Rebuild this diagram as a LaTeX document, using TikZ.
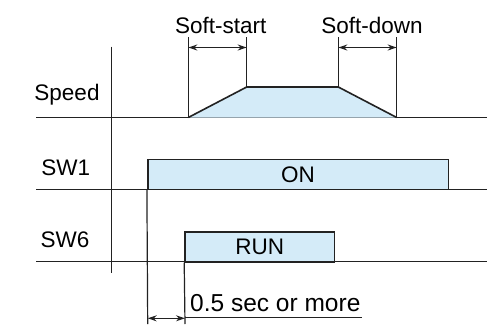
\documentclass[tikz,border=0pt]{standalone}
\usepackage{fontspec}
\setmainfont{Liberation Sans}
\usetikzlibrary{arrows.meta,positioning,calc}
\definecolor{fillBlue}{HTML}{D4EBF8}
\definecolor{lineDark}{HTML}{222222}

\begin{document}
\begin{tikzpicture}[
      x=1pt, y=-1pt,
      sigbox/.style={
        rectangle, fill=fillBlue, draw=lineDark, line width=1.6pt, inner sep=0pt,
        font=\fontsize{22.5pt}{24pt}\selectfont, text=black
      },
      sigline/.style={draw=lineDark, line width=1.2pt},
      rowlabel/.style={font=\fontsize{22.5pt}{24pt}\selectfont, inner sep=0pt, anchor=center},
      dimarr/.style={{Stealth[length=9pt,width=6pt]}-{Stealth[length=9pt,width=6pt]}, draw=lineDark, line width=1.2pt}
    ]
      \useasboundingbox (0,0) rectangle (487,324);

      % time axis and the three signal base lines
      \coordinate (axtop) at (111.7,46.7);
      \coordinate (axbot) at (111.7,273);
      \draw[sigline] (axtop) -- (axbot);
      \draw[sigline] (36,117.5) -- (487,117.5);
      \draw[sigline] (36,189.3) -- (487,189.3);
      \draw[sigline] (36,261.7) -- (487,261.7);

      \node[rowlabel] (lspeed) at (67,95) {Speed};
      \node[rowlabel] (lsw1) at (65.7,168) {SW1};
      \node[rowlabel] (lsw6) at (65,240) {SW6};

      % speed profile
      \coordinate (s0) at (188.3,117.5);
      \coordinate (s1) at (246.7,87);
      \coordinate (s2) at (338.3,87);
      \coordinate (s3) at (396.7,117.5);
      \fill[fillBlue] (s0) -- (s1) -- (s2) -- (s3) -- cycle;
      \draw[sigline, line width=1.6pt] (s0) -- (s1) -- (s2) -- (s3);

      \coordinate (t0) at (188.3,37);
      \coordinate (t1) at (246.7,37);
      \coordinate (t2) at (338.3,37);
      \coordinate (t3) at (396.7,37);
      \draw[sigline] (t0) -- (s0);
      \draw[sigline] (t1) -- (s1);
      \draw[sigline] (t2) -- (s2);
      \draw[sigline] (t3) -- (s3);
      \draw[dimarr] ($(t0)+(0,10.5)$) -- ($(t1)+(0,10.5)$);
      \draw[dimarr] ($(t2)+(0,10.5)$) -- ($(t3)+(0,10.5)$);
      \node[rowlabel] (lstart) at (220.7,25) {Soft-start};
      \node[rowlabel] (ldown) at (372,25) {Soft-down};

      % SW1 and SW6 pulses
      \node[sigbox, minimum width=300.6pt, minimum height=30pt] (on) at (298,174.3) {ON};
      \node[sigbox, minimum width=149.3pt, minimum height=30pt] (run) at (259.65,246.7) {RUN};

      \coordinate (b1) at (147.7,324);
      \coordinate (b6) at (185,324);
      \draw[sigline] (on.south west) -- (b1);
      \draw[sigline] (run.south west) -- (b6);

      % delay between SW1 and SW6
      \draw[dimarr] ($(b1)+(0,-5.7)$) -- ($(b6)+(0,-5.7)$);
      \node[rowlabel, anchor=base west, font=\fontsize{24.5pt}{26pt}\selectfont] (ldelay) at (190,311.7) {0.5 sec or more};
      \draw[sigline] ($(b6)+(0,-6.3)$) -- (361.7,317.7);
    \end{tikzpicture}
\end{document}
